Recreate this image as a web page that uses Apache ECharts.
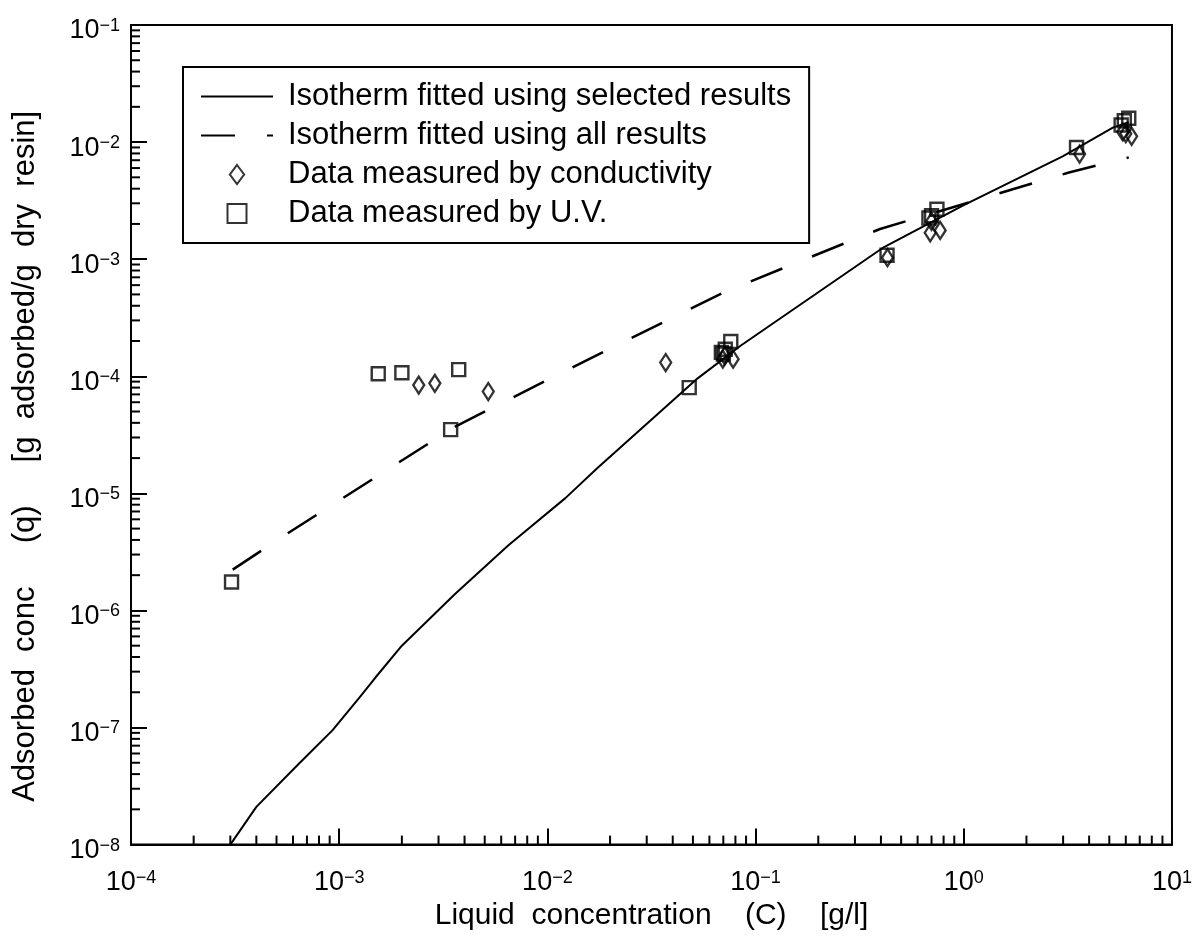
<!DOCTYPE html>
<html>
<head>
<meta charset="utf-8">
<script src="https://cdn.jsdelivr.net/npm/echarts@6/dist/echarts.min.js"></script>
<style>
html,body{margin:0;padding:0;background:#fff;}
#chart{width:1195px;height:936px;}
</style>
</head>
<body>
<div id="chart"></div>
<script>
// ---- Data ----
const seriesNames = [
  'Isotherm fitted using selected results',
  'Isotherm fitted using all results',
  'Data measured by conductivity',
  'Data measured by U.V.'
];
// solid line: isotherm fitted using selected results [C, q]
const fitSelected = [
  [3.0e-4, 1.0e-8], [4.0e-4, 2.1e-8], [6.4e-4, 4.9e-8], [9.3e-4, 9.5e-8],
  [1.25e-3, 1.8e-7], [1.5e-3, 2.7e-7], [2.0e-3, 5.0e-7], [3.6e-3, 1.38e-6],
  [6.5e-3, 3.6e-6], [1.22e-2, 9.1e-6], [1.75e-2, 1.66e-5], [5.27e-2, 9.6e-5],
  [8.5e-2, 1.83e-4], [4.14e-1, 1.27e-3], [1.0, 2.9e-3], [3.0, 7.6e-3],
  [5.2, 1.33e-2], [6.2, 1.48e-2]
];
// dashed line: isotherm fitted using all results [C, q]
const fitAll = [
  [3.08e-4, 2.23e-6], [5.6e-4, 4.5e-6], [1.0e-3, 8.7e-6], [3.63e-3, 3.74e-5],
  [1.38e-2, 1.24e-4], [7.11e-2, 5.26e-4], [3.96e-1, 1.81e-3], [3.2, 5.5e-3],
  [6.2, 7.4e-3]
];
// diamonds: data measured by conductivity [C, q]
const conductivity = [
  [2.41e-3, 8.4e-5], [2.88e-3, 8.7e-5], [5.2e-3, 7.4e-5], [3.7e-2, 1.31e-4],
  [6.96e-2, 1.4e-4], [7.1e-2, 1.5e-4], [7.8e-2, 1.4e-4], [4.3e-1, 1.03e-3],
  [6.9e-1, 1.68e-3], [7.0e-1, 2.1e-3], [7.7e-1, 1.76e-3], [3.6, 7.9e-3],
  [5.8, 1.22e-2], [6.0, 1.18e-2], [6.4, 1.12e-2]
];
// squares: data measured by U.V. [C, q]
const uv = [
  [3.04e-4, 1.75e-6], [1.54e-3, 1.05e-4], [2.0e-3, 1.07e-4], [3.43e-3, 3.5e-5],
  [3.75e-3, 1.14e-4], [4.8e-2, 8.0e-5], [6.85e-2, 1.6e-4], [7.15e-2, 1.7e-4],
  [7.0e-2, 1.55e-4], [7.6e-2, 1.98e-4], [4.28e-1, 1.08e-3], [6.8e-1, 2.25e-3],
  [7.0e-1, 2.35e-3], [7.43e-1, 2.67e-3], [3.48, 9.0e-3], [5.7, 1.4e-2],
  [5.9, 1.52e-2], [6.2, 1.6e-2]
];
// axis ranges (decades)
const xDecades = [-4, -3, -2, -1, 0, 1];
const yDecades = [-8, -7, -6, -5, -4, -3, -2, -1];
const xTitle = 'Liquid  concentration    (C)    [g/l]';
const yTitle = 'Adsorbed  conc     (q)     [g  adsorbed/g  dry  resin]\u00a0\u00a0\u00a0\u00a0\u00a0';

// minor tick positions (2..9 x 10^k)
const xMinor = [];
for (let i = 0; i < xDecades.length - 1; i++) for (let m = 2; m <= 9; m++) xMinor.push([m * Math.pow(10, xDecades[i]), Math.pow(10, yDecades[0])]);
const yMinor = [];
for (let i = 0; i < yDecades.length - 1; i++) for (let m = 2; m <= 9; m++) yMinor.push([Math.pow(10, xDecades[0]), m * Math.pow(10, yDecades[i])]);

const FONT = 'Liberation Sans, Arial, sans-serif';
function powLabel(v) {
  const e = Math.round(Math.log10(v));
  return '{b|10}{s|' + (e < 0 ? '\u2212' + (-e) : String(e)) + '}';
}
const richLbl = {
  b: {fontSize: 27, fontFamily: FONT, color: '#000', lineHeight: 28},
  s: {fontSize: 18, fontFamily: FONT, color: '#000', verticalAlign: 'top', lineHeight: 18}
};
const hiddenSym = {color: 'rgba(0,0,0,0)', borderColor: 'rgba(0,0,0,0)', borderWidth: 0, opacity: 0};

const chart = echarts.init(document.getElementById('chart'), null, {renderer: 'canvas'});
const option = {
  animation: false,
  backgroundColor: '#fff',
  grid: {left: 131, right: 19, top: 25, bottom: 88, show: true, borderColor: '#000', borderWidth: 2, backgroundColor: 'transparent'},
  legend: {
    orient: 'vertical', left: 183, top: 67,
    itemWidth: 72, itemHeight: 19, itemGap: 8,
    padding: [14, 18, 14, 17],
    borderColor: '#000', borderWidth: 2,
    selectedMode: false,
    textStyle: {fontSize: 31, fontFamily: FONT, color: '#000', padding: [0, 0, 0, 10]},
    data: [
      {name: seriesNames[0], itemStyle: hiddenSym},
      {name: seriesNames[1], itemStyle: hiddenSym},
      {name: seriesNames[2], icon: 'path://M7.5,0L15,10L7.5,20L0,10Z'},
      {name: seriesNames[3], icon: 'path://M0,0H18V18H0Z'}
    ]
  },
  xAxis: {
    type: 'log', logBase: 10,
    min: Math.pow(10, xDecades[0]), max: Math.pow(10, xDecades[xDecades.length - 1]),
    splitNumber: xDecades.length - 1,
    axisLine: {show: true, lineStyle: {color: '#000', width: 2}},
    axisTick: {show: true, inside: true, length: 16, lineStyle: {color: '#000', width: 2}},
    axisLabel: {formatter: powLabel, rich: richLbl, margin: 24, showMinLabel: true, showMaxLabel: true},
    splitLine: {show: false},
    name: xTitle, nameLocation: 'middle', nameGap: 56,
    nameTextStyle: {fontSize: 30, fontFamily: FONT, color: '#000'}
  },
  yAxis: {
    type: 'log', logBase: 10,
    min: Math.pow(10, yDecades[0]), max: Math.pow(10, yDecades[yDecades.length - 1]),
    splitNumber: yDecades.length - 1,
    axisLine: {show: true, lineStyle: {color: '#000', width: 2}},
    axisTick: {show: true, inside: true, length: 16, lineStyle: {color: '#000', width: 2}},
    axisLabel: {formatter: powLabel, rich: richLbl, margin: 11, padding: [12, 0, 0, 0], showMinLabel: true, showMaxLabel: true},
    splitLine: {show: false},
    name: yTitle, nameLocation: 'middle', nameGap: 90,
    nameTextStyle: {fontSize: 31, fontFamily: FONT, color: '#000'}
  },
  series: [
    {
      name: seriesNames[0], type: 'line', data: fitSelected, symbol: 'none',
      lineStyle: {color: '#000', width: 2}, itemStyle: {color: '#000'}, z: 2
    },
    {
      name: seriesNames[1], type: 'line', data: fitAll, symbol: 'none',
      lineStyle: {color: '#000', width: 2.5, type: [34, 32]}, itemStyle: {color: '#000'}, z: 2
    },
    {
      name: seriesNames[2], type: 'scatter', data: conductivity, symbol: 'diamond', symbolSize: [11, 17],
      itemStyle: {color: 'rgba(255,255,255,0)', borderColor: '#000', borderWidth: 2.4}, z: 3
    },
    {
      name: seriesNames[3], type: 'scatter', data: uv, symbol: 'rect', symbolSize: 13,
      itemStyle: {color: 'rgba(255,255,255,0)', borderColor: '#000', borderWidth: 2.4}, z: 3
    },
    {
      name: 'xMinorTicks', type: 'custom', data: xMinor, silent: true, z: 4,
      renderItem: function (params, api) {
        const p = api.coord([api.value(0), api.value(1)]);
        return {type: 'line', shape: {x1: p[0], y1: p[1], x2: p[0], y2: p[1] - 9}, style: {stroke: '#000', lineWidth: 2}};
      }
    },
    {
      name: 'yMinorTicks', type: 'custom', data: yMinor, silent: true, z: 4,
      renderItem: function (params, api) {
        const p = api.coord([api.value(0), api.value(1)]);
        return {type: 'line', shape: {x1: p[0], y1: p[1], x2: p[0] + 9, y2: p[1]}, style: {stroke: '#000', lineWidth: 2}};
      }
    }
  ]
};
chart.setOption(option);
</script>
</body>
</html>
